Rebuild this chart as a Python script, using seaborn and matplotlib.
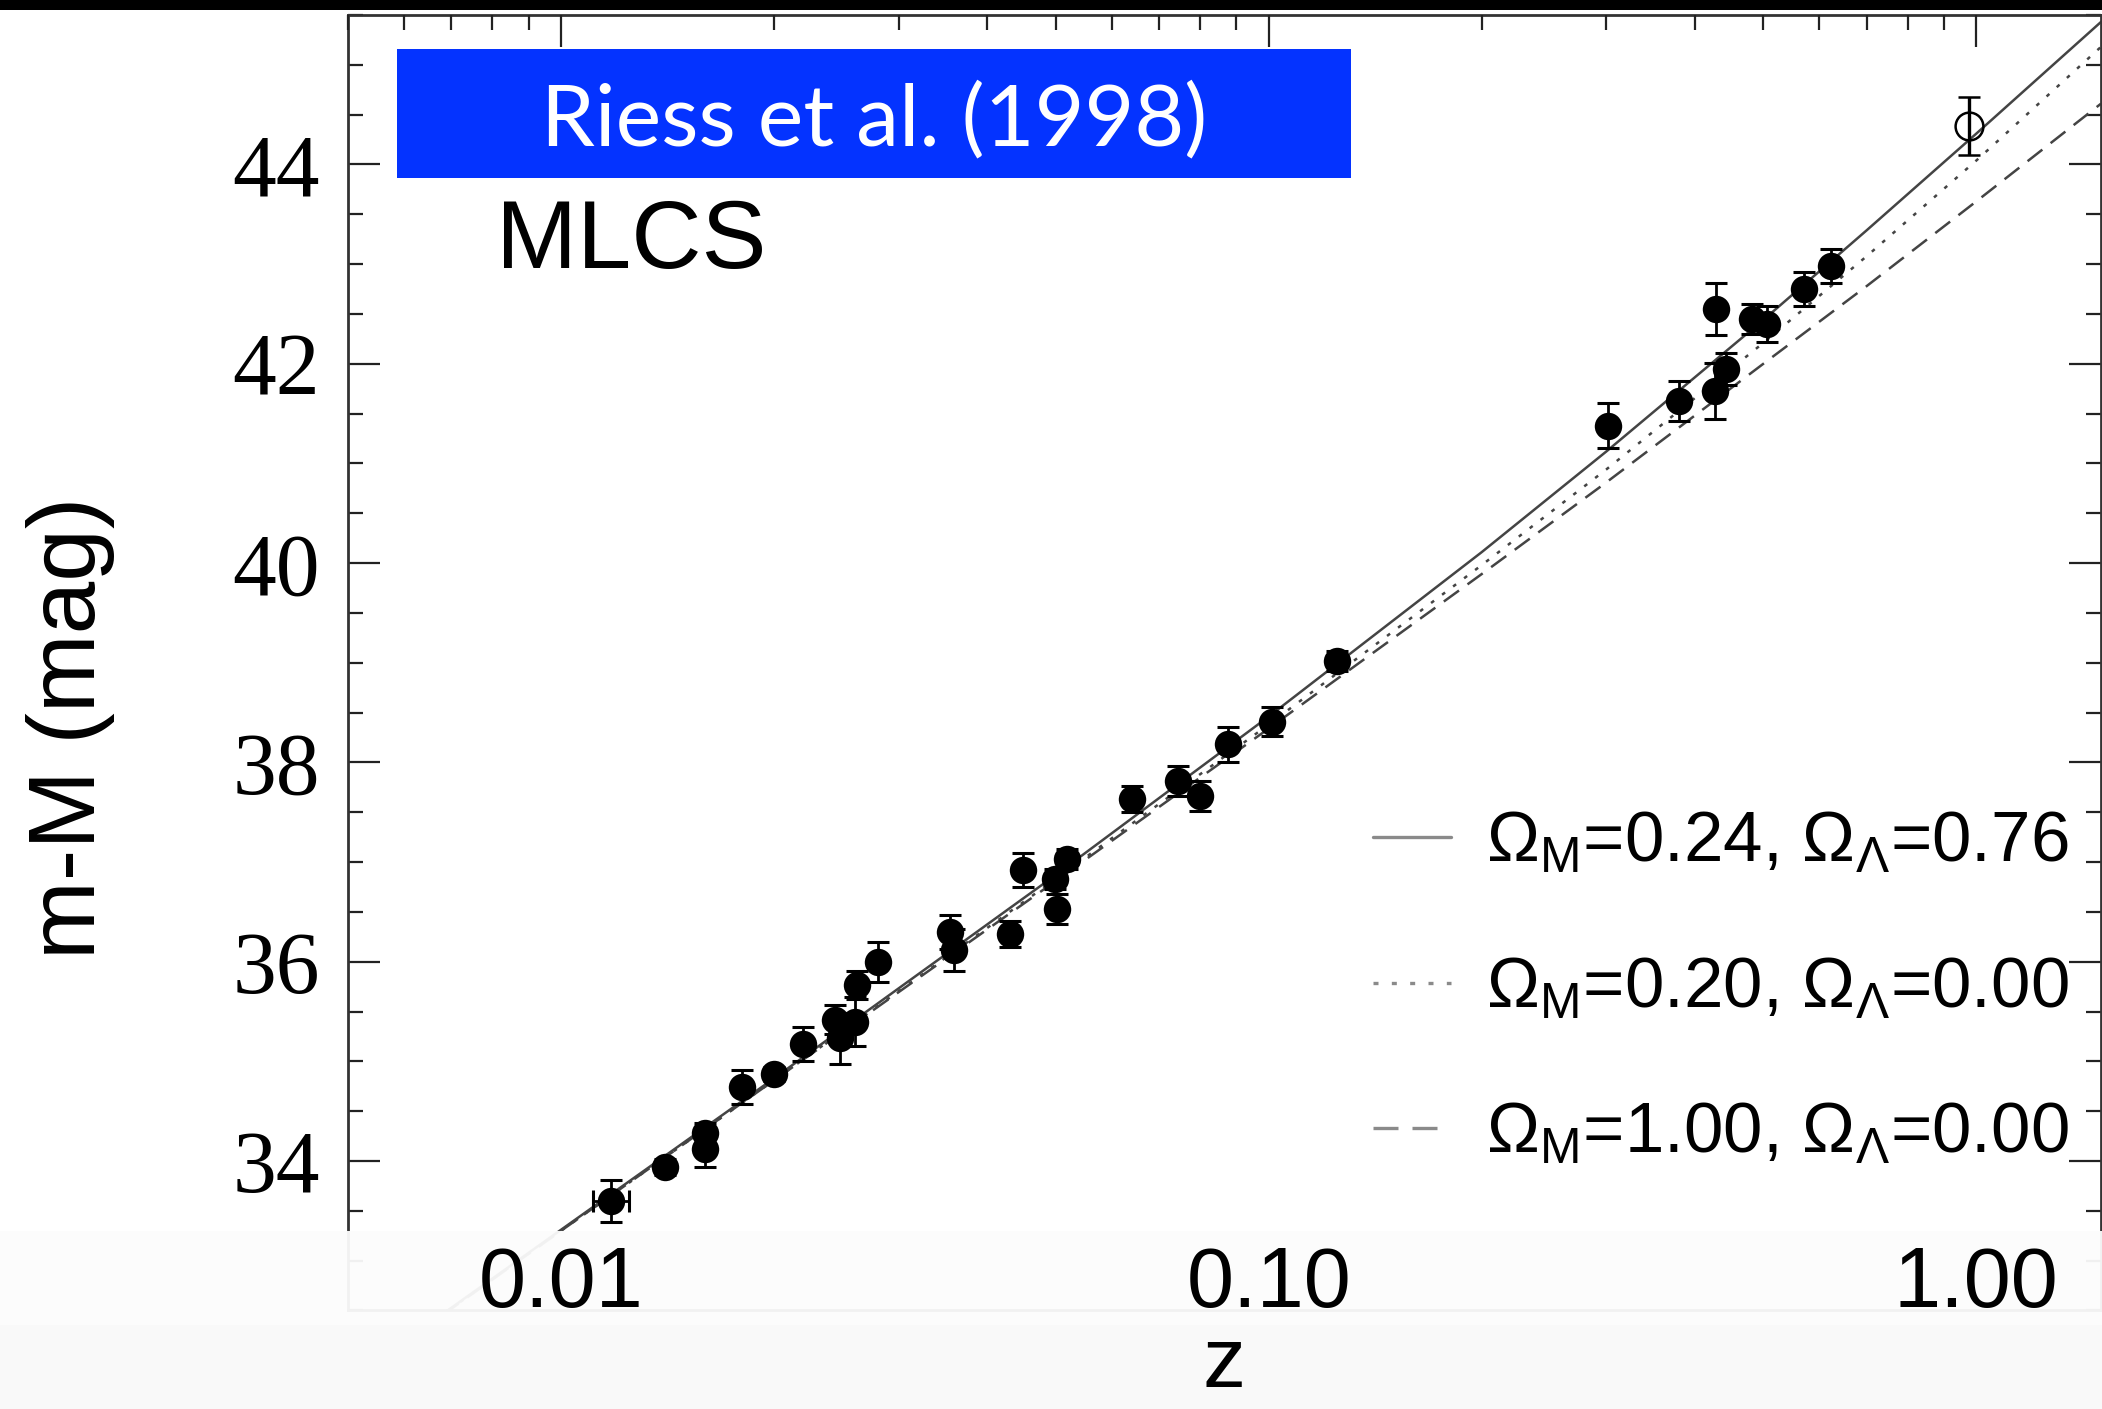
import numpy as np
import matplotlib
matplotlib.use("Agg")
import matplotlib.pyplot as plt
import seaborn as sns
from matplotlib.patches import Rectangle
from matplotlib.ticker import MultipleLocator, LogLocator, NullFormatter

# ---------------- data ----------------
z_sn = [0.01175, 0.01403, 0.01597, 0.01600, 0.01803, 0.01999, 0.02197, 0.02438,
        0.02480, 0.02604, 0.02621, 0.02804, 0.03542, 0.03590, 0.04306, 0.04494,
        0.04985, 0.05020, 0.05185, 0.06400, 0.07440, 0.07990, 0.08750, 0.10100,
        0.12470, 0.30120, 0.38060, 0.42930, 0.42660, 0.44350, 0.48120, 0.50680,
        0.57160, 0.62400]
mu_sn = [33.60, 33.94, 34.28, 34.12, 34.74, 34.87, 35.17, 35.42,
         35.23, 35.40, 35.77, 36.00, 36.30, 36.12, 36.28, 36.92,
         36.83, 36.53, 37.03, 37.63, 37.81, 37.66, 38.18, 38.41,
         39.02, 41.38, 41.63, 42.55, 41.73, 41.95, 42.45, 42.40,
         42.75, 42.98]
mu_err = [0.21, 0.08, 0.10, 0.18, 0.17, 0.07, 0.17, 0.15,
          0.26, 0.25, 0.14, 0.20, 0.17, 0.21, 0.13, 0.17,
          0.10, 0.15, 0.10, 0.13, 0.15, 0.15, 0.18, 0.15,
          0.10, 0.23, 0.20, 0.26, 0.28, 0.16, 0.15, 0.18,
          0.17, 0.17]

# one SN with a redshift error bar
xerr_z = [0.01175]
xerr_mu = [33.60]
xerr_lo = [0.00067]
xerr_hi = [0.00071]

# open symbol (high-z SN)
z_open = [0.9775]
mu_open = [44.39]
err_open = [0.29]

# model curves
z_model = [0.005, 0.01, 0.02, 0.05, 0.1, 0.2, 0.3, 0.5, 0.7, 1.0, 1.5]
mu_lcdm = [31.79, 33.31, 34.83, 36.87, 38.46, 40.11, 41.12, 42.44, 43.34, 44.31, 45.43]
mu_openm = [31.79, 33.30, 34.81, 36.83, 38.38, 39.98, 40.94, 42.21, 43.08, 44.04, 45.18]
mu_eds = [31.78, 33.30, 34.81, 36.81, 38.34, 39.89, 40.81, 42.00, 42.78, 43.63, 44.61]
model_labels = [r"$\Omega_{\mathrm{M}}$=0.24, $\Omega_{\Lambda}$=0.76",
                r"$\Omega_{\mathrm{M}}$=0.20, $\Omega_{\Lambda}$=0.00",
                r"$\Omega_{\mathrm{M}}$=1.00, $\Omega_{\Lambda}$=0.00"]

xtick_vals = [0.01, 0.1, 1.0]
xtick_labels = ["0.01", "0.10", "1.00"]
ytick_vals = [34, 36, 38, 40, 42, 44]
ytick_labels = ["34", "36", "38", "40", "42", "44"]

# ---------------- style ----------------
sns.set_theme(style="ticks")
plt.rcParams["font.family"] = ["Liberation Sans", "DejaVu Sans"]
plt.rcParams.update({
    "mathtext.fontset": "custom",
    "mathtext.rm": "Liberation Sans",
    "mathtext.it": "Liberation Sans:italic",
    "mathtext.bf": "Liberation Sans:bold",
})

W, H = 2102, 1409
fig = plt.figure(figsize=(W / 100, H / 100), dpi=100)
fig.patch.set_facecolor("white")
ax = fig.add_axes([0.16556, 0.06991, 0.83394, 0.91944])
ax.set_facecolor("white")
ax.set_xscale("log")

line_color = "#444444"
styles = ["-", (0, (1.5, 4.0)), (0, (7.5, 4.2))]
for mu, ls, lab in zip([mu_lcdm, mu_openm, mu_eds], styles, model_labels):
    sns.lineplot(x=z_model, y=mu, ax=ax, color=line_color, linewidth=1.8,
                 linestyle=ls, label=lab, zorder=2)

# error bars and points
ax.errorbar(z_sn, mu_sn, yerr=mu_err, fmt="none", ecolor="black",
            elinewidth=2.0, capsize=8, capthick=2.2, zorder=2.3)
ax.errorbar(xerr_z, xerr_mu, xerr=[xerr_lo, xerr_hi], fmt="none", ecolor="black",
            elinewidth=2.0, capsize=8, capthick=2.2, zorder=2.3)
sns.scatterplot(x=z_sn, y=mu_sn, ax=ax, color="black", s=390,
                edgecolor="black", linewidth=0, zorder=2.5, legend=False)
ax.errorbar(z_open, mu_open, yerr=err_open, fmt="o", ms=20, mfc="none",
            mec="black", mew=1.8, ecolor="black", elinewidth=2.4,
            capsize=8, capthick=2.2, zorder=2.5)

ax.set_xlim(0.005, 1.5)
ax.set_ylim(32.5, 45.5)

ax.set_xticks(xtick_vals, xtick_labels, fontsize=61, fontfamily="Liberation Sans")
ax.xaxis.set_minor_locator(LogLocator(base=10, subs=np.arange(2, 10) * 1.0, numticks=30))
ax.xaxis.set_minor_formatter(NullFormatter())
ax.set_yticks(ytick_vals, ytick_labels, fontsize=63, fontfamily="Liberation Serif")
ax.yaxis.set_minor_locator(MultipleLocator(0.5))

ax.tick_params(axis="both", which="both", direction="in", top=True, right=True,
               bottom=False, left=True, labelbottom=True, labelleft=True,
               colors="#222222")
ax.tick_params(which="major", length=23, width=1.6)
ax.tick_params(which="minor", length=11, width=1.6)
ax.tick_params(axis="x", pad=-47, labelcolor="black")
ax.tick_params(axis="y", pad=20, labelcolor="black")

for sp in ax.spines.values():
    sp.set_color("#333333")
    sp.set_linewidth(2.0)

ax.set_xlabel("z", fontsize=62, fontfamily="Liberation Sans", color="black")
ax.xaxis.set_label_coords(0.5, -0.0115)
ax.set_ylabel("m-M (mag)", fontsize=68, fontfamily="Liberation Sans", color="black")
ax.yaxis.set_label_coords(-0.133, 0.45)
ax.xaxis.set_zorder(5)

ax.text(0.0845, 0.8047, "MLCS", transform=ax.transAxes, fontsize=70,
        fontfamily="Liberation Sans", ha="left", va="baseline", color="black")

leg = ax.legend(loc="upper left", bbox_to_anchor=(0.5845, 0.3855), frameon=False,
                fontsize=51, handlelength=1.1, handletextpad=0.5,
                labelspacing=1.12, borderpad=0, borderaxespad=0)
for t in leg.get_texts():
    t.set_color("black")
for h in leg.get_lines():
    h.set_color("#8a8a8a")
    h.set_linewidth(2.4)

# light overlay band at the bottom (screenshot artefact)
ax.add_patch(Rectangle((0, 1 - 1325 / H), 1, (1325 - 1231) / H, transform=fig.transFigure,
                       facecolor="#fcfcfc", edgecolor="none", alpha=0.95,
                       clip_on=False, zorder=4))
ax.add_patch(Rectangle((0, 0), 1, 1 - 1325 / H, transform=fig.transFigure,
                       facecolor="#f9f9f9", edgecolor="none", alpha=1.0,
                       clip_on=False, zorder=4))

# top black bar
fig.add_artist(Rectangle((0, 1 - 10 / H), 1, 10 / H, transform=fig.transFigure,
                         facecolor="black", edgecolor="none", zorder=10))

# blue title box
fig.add_artist(Rectangle((397 / W, 1 - 178 / H), (1351 - 397) / W, (178 - 49) / H,
                         transform=fig.transFigure, facecolor="#0433FF",
                         edgecolor="none", zorder=10))
fig.text(874 / W, 1 - 145 / H, "Riess et al. (1998)", fontsize=62,
         fontfamily="Lato", color="white", ha="center", va="baseline", zorder=11)

fig.savefig("out.png", dpi=100)
